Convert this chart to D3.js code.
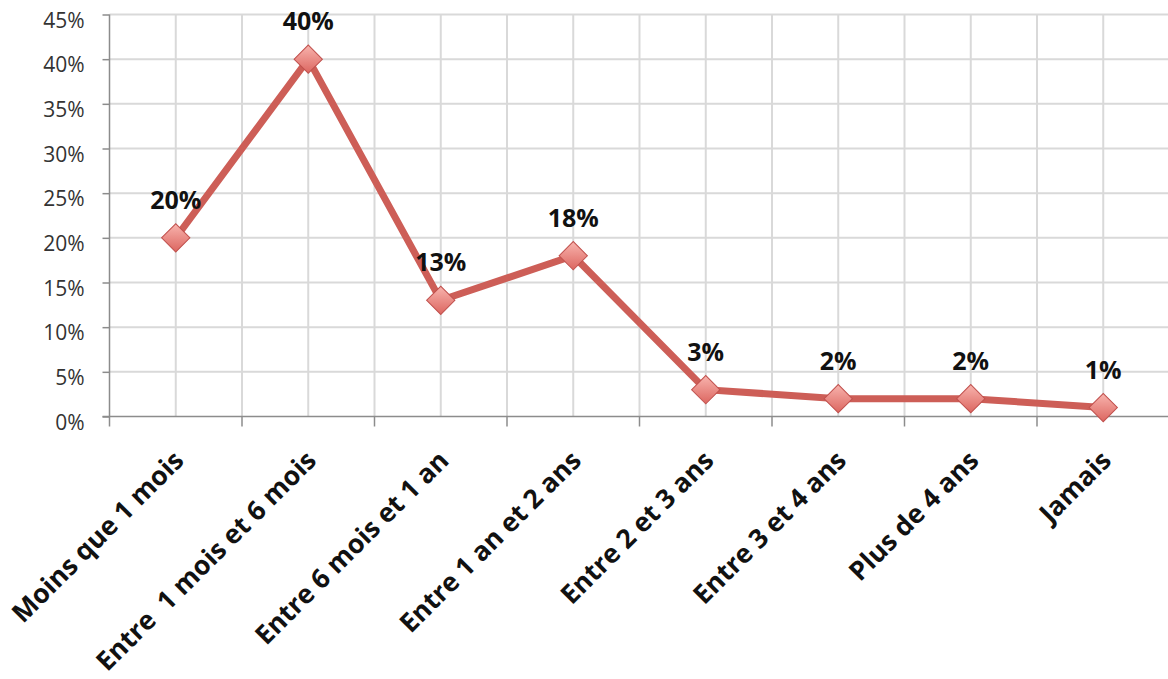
<!DOCTYPE html>
<html><head><meta charset="utf-8">
<script src="https://cdn.jsdelivr.net/npm/d3@7"></script>
<style>html,body{margin:0;padding:0;background:#fff;}svg{display:block;}</style>
</head><body>
<svg id="chart" width="1168" height="679"></svg>
<script>
const categories = ["Moins que 1 mois","Entre  1 mois et 6 mois","Entre 6 mois et 1 an","Entre 1 an et 2 ans","Entre 2 et 3 ans","Entre 3 et 4 ans","Plus de 4 ans","Jamais"];
const values = [20, 40, 13, 18, 3, 2, 2, 1];
const yTicks = [0,5,10,15,20,25,30,35,40,45];

(function(){
const svg = d3.select("#chart");
const pL = 109.5, pR = 1169.5, pT = 14.5, pB = 416.5;
const FONT = "'Open Sans', Lato, sans-serif";
const x = d3.scaleBand().domain(categories).range([pL, pR]).padding(0);
const y = d3.scaleLinear().domain([0,45]).range([pB, pT]);
const bw = x.bandwidth();
const cx = c => x(c) + bw/2;

const defs = svg.append("defs");
const grad = defs.append("linearGradient").attr("id","mk").attr("x1",0).attr("y1",0).attr("x2",1).attr("y2",1);
grad.append("stop").attr("offset","0%").attr("stop-color","#f8b4ae");
grad.append("stop").attr("offset","100%").attr("stop-color","#dc6660");

// horizontal gridlines
svg.append("g").selectAll("line").data(yTicks.slice(1)).join("line")
  .attr("x1", pL).attr("x2", pR).attr("y1", d=>y(d)).attr("y2", d=>y(d))
  .attr("stroke","#d9d9d9").attr("stroke-width",2);
// vertical gridlines at band edges and centers
const vlines = [];
categories.forEach(c => { vlines.push(x(c)); vlines.push(cx(c)); });
vlines.push(pR);
svg.append("g").selectAll("line").data(vlines.slice(1)).join("line")
  .attr("x1", d=>d).attr("x2", d=>d).attr("y1", pT).attr("y2", pB)
  .attr("stroke","#d9d9d9").attr("stroke-width",2);

// y axis
const yAxis = d3.axisLeft(y).tickValues(yTicks).tickFormat(d=>d+"%").tickSize(7).tickPadding(18);
const gy = svg.append("g").attr("transform",`translate(${pL},0)`).call(yAxis);
gy.select(".domain").attr("stroke","#8c8c8c").attr("stroke-width",1.5).attr("d",`M0,${pT}V${pB}`);
gy.selectAll(".tick line").attr("stroke","#8c8c8c").attr("stroke-width",1.5);
gy.selectAll(".tick text").attr("font-family",FONT).attr("font-size",21).attr("fill","#333").attr("dy","12.5px");

// x axis
const gx = svg.append("g").attr("transform",`translate(0,${pB})`);
gx.append("line").attr("x1",pL-7).attr("x2",pR).attr("y1",0).attr("y2",0).attr("stroke","#8c8c8c").attr("stroke-width",1.5);
const edges = categories.map(c=>x(c)).concat([pR]);
gx.selectAll("line.tk").data(edges).join("line").attr("class","tk")
  .attr("x1",d=>d).attr("x2",d=>d).attr("y1",0).attr("y2",10).attr("stroke","#8c8c8c").attr("stroke-width",1.5);
gx.selectAll("text").data(categories).join("text")
  .attr("transform", d=>`translate(${cx(d)+3},${39}) rotate(-45)`)
  .attr("text-anchor","end").attr("dy","0.35em").style("white-space","pre")
  .attr("font-family",FONT).attr("font-weight","bold").attr("font-size",26.5).attr("fill","#111")
  .text(d=>d);

// line
const line = d3.line().x((d,i)=>cx(categories[i])).y(d=>y(d));
svg.append("path").datum(values).attr("d",line).attr("fill","none")
  .attr("stroke","#cd5e57").attr("stroke-width",7).attr("stroke-linejoin","miter");

// markers
svg.append("g").selectAll("path").data(values).join("path")
  .attr("d", d3.symbol().type(d3.symbolSquare).size(400))
  .attr("transform",(d,i)=>`translate(${cx(categories[i])},${y(d)}) rotate(45)`)
  .attr("fill","url(#mk)").attr("stroke","#c0504d").attr("stroke-width",1);

// data labels
svg.append("g").selectAll("text").data(values).join("text")
  .attr("x",(d,i)=>cx(categories[i])).attr("y",d=>y(d)-29)
  .attr("text-anchor","middle")
  .attr("font-family",FONT).attr("font-weight","bold").attr("font-size",25).attr("fill","#111")
  .text(d=>d+"%");
})();
</script>
</body></html>
